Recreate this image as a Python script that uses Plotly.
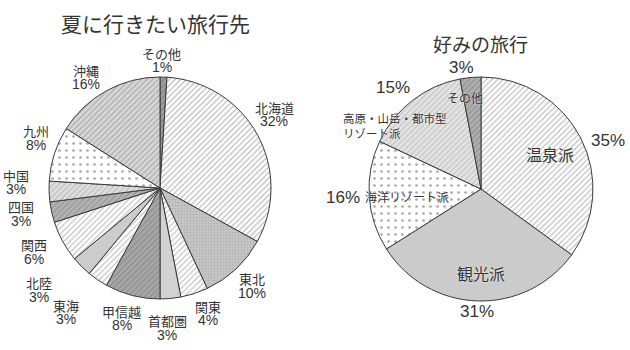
import math
import plotly.graph_objects as go

# ---------------- data ----------------
left_title = "夏に行きたい旅行先"
left_labels = ["その他", "北海道", "東北", "関東", "首都圏", "甲信越", "東海",
               "北陸", "関西", "四国", "中国", "九州", "沖縄"]
left_values = [1, 32, 10, 4, 3, 8, 3, 3, 6, 3, 3, 8, 16]

right_title = "好みの旅行"
right_labels = ["温泉派", "観光派", "海洋リゾート派", "高原・山岳・都市型<br>リゾート派", "その他"]
right_values = [35, 31, 16, 15, 3]

# ---------------- styles ----------------
W, H = 630, 350
FONT = "Noto Sans CJK JP"
PFONT = "Liberation Sans, Arial, Noto Sans CJK JP"
TXT = "#333333"

# left pie geometry (pixels)
LCX, LCY, LR = 160, 188, 111
# right pie geometry
RCX, RCY, RR = 481, 189, 112

left_bg = ["#a0a0a0", "#ffffff", "#c8c8c8", "#ffffff", "#d2d2d2", "#a8a8a8", "#ffffff",
           "#cccccc", "#ffffff", "#b4b4b4", "#e0e0e0", "#ffffff", "#d8d8d8"]
left_fg = ["#808080", "#bcbcbc", "#b0b0b0", "#c4c4c4", "#d2d2d2", "#8c8c8c", "#c4c4c4",
           "#cccccc", "#c4c4c4", "#969696", "#bcbcbc", "#a8a8a8", "#ababab"]
left_shape = ["/", "/", ".", "/", "", "/", "/", "", "/", "/", "/", ".", "/"]
left_size = [4, 4, 3, 4, 4, 4, 4, 4, 4, 4, 4, 7, 4]
left_sol = [0.3, 0.3, 0.3, 0.3, 0.3, 0.3, 0.3, 0.3, 0.3, 0.3, 0.3, 0.12, 0.3]

right_bg = ["#ffffff", "#cbcbcb", "#ffffff", "#e4e4e4", "#b0b0b0"]
right_fg = ["#c0c0c0", "#cbcbcb", "#a8a8a8", "#c4c4c4", "#909090"]
right_shape = ["/", "", ".", "/", "/"]
right_size = [4, 4, 7, 4, 4]
right_sol = [0.3, 0.3, 0.12, 0.3, 0.3]

# label placement tweaks (radius px, angle offset deg)
left_lab_r = [128, 136, 134, 134, 140, 136, 156, 158, 141, 141, 144, 134, 133]
left_lab_dt = [-1, -4, 0, -3, 2.5, 2, 3, 5, 2, 2, 4, 4, -5]
right_pct_r = [136, 123, 138, 134, 123]
right_pct_dt = [6, 0, 0, -3, -3.5]
right_name_r = [77, 84, 74, 107, 93]
right_name_dt = [0, -1.8, -2.6, -16, -4.6]
right_name_size = [16, 16, 12, 11.5, 12]


def dom(cx, cy, r):
    return dict(x=[(cx - r) / W, (cx + r) / W], y=[1 - (cy + r) / H, 1 - (cy - r) / H])


def mids(values):
    tot = sum(values)
    out, acc = [], 0
    for v in values:
        out.append((acc + v / 2) / tot * 360)
        acc += v
    return out


def pos(cx, cy, r, th):
    t = math.radians(th)
    return (cx + r * math.sin(t)) / W, 1 - (cy - r * math.cos(t)) / H


fig = go.Figure()

fig.add_trace(go.Pie(
    labels=left_labels, values=left_values, sort=False, direction="clockwise",
    rotation=0, textinfo="none", hoverinfo="label+percent",
    domain=dom(LCX, LCY, LR),
    marker=dict(colors=left_bg, line=dict(color="#3a3a3a", width=1),
                pattern=dict(shape=left_shape, fgcolor=left_fg, bgcolor=left_bg,
                             size=left_size, solidity=left_sol, fillmode="replace")),
))
fig.add_trace(go.Pie(
    labels=right_labels, values=right_values, sort=False, direction="clockwise",
    rotation=0, textinfo="none", hoverinfo="label+percent",
    domain=dom(RCX, RCY, RR),
    marker=dict(colors=right_bg, line=dict(color="#3a3a3a", width=1),
                pattern=dict(shape=right_shape, fgcolor=right_fg, bgcolor=right_bg,
                             size=right_size, solidity=right_sol, fillmode="replace")),
))

ann = []
# titles
ann.append(dict(text=left_title, x=155 / W, y=1 - 23 / H, xref="paper", yref="paper",
                xanchor="center", yanchor="middle",
                showarrow=False, font=dict(family=FONT, size=21, color=TXT)))
ann.append(dict(text=right_title, x=480 / W, y=1 - 43 / H, xref="paper", yref="paper",
                xanchor="center", yanchor="middle",
                showarrow=False, font=dict(family=FONT, size=19, color=TXT)))

lt = sum(left_values)
for lab, v, m, r, dt in zip(left_labels, left_values, mids(left_values), left_lab_r, left_lab_dt):
    x, y = pos(LCX, LCY, r, m + dt)
    ann.append(dict(text=lab, x=x, y=y, xref="paper", yref="paper", yshift=7,
                    showarrow=False, xanchor="center", yanchor="middle",
                    font=dict(family=FONT, size=13, color=TXT)))
    ann.append(dict(text=f"{round(v / lt * 100)}%", x=x, y=y, xref="paper", yref="paper",
                    yshift=-7, showarrow=False, xanchor="center", yanchor="middle",
                    font=dict(family=PFONT, size=14, color=TXT)))

rt = sum(right_values)
for i, (lab, v, m) in enumerate(zip(right_labels, right_values, mids(right_values))):
    x, y = pos(RCX, RCY, right_pct_r[i], m + right_pct_dt[i])
    ann.append(dict(text=f"{round(v / rt * 100)}%", x=x, y=y, xref="paper", yref="paper",
                    showarrow=False, xanchor="center", yanchor="middle",
                    font=dict(family=PFONT, size=17, color=TXT)))
    x, y = pos(RCX, RCY, right_name_r[i], m + right_name_dt[i])
    ann.append(dict(text=lab, x=x, y=y, xref="paper", yref="paper",
                    showarrow=False, xanchor="center", yanchor="middle", align="left",
                    font=dict(family=FONT, size=right_name_size[i], color=TXT,
                              shadow="0px 0px 2px white")))

fig.update_layout(width=W, height=H, margin=dict(l=0, r=0, t=0, b=0),
                  paper_bgcolor="white", plot_bgcolor="white", showlegend=False,
                  annotations=ann)

fig.write_html("out.html")
